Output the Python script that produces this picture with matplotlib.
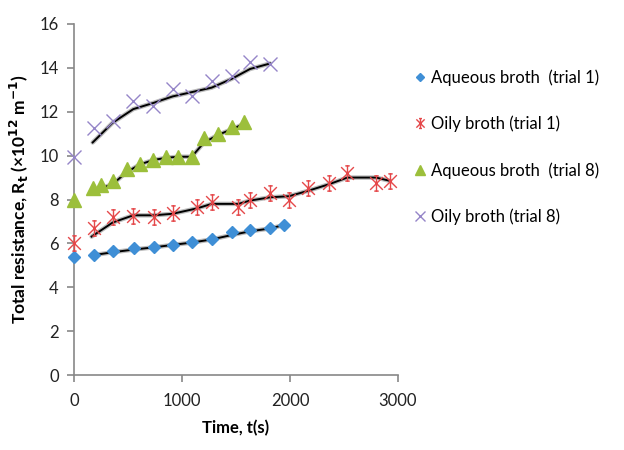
import matplotlib
matplotlib.use("Agg")
import matplotlib.pyplot as plt
from matplotlib.path import Path
import numpy as np

plt.rcParams['font.family'] = ['Lato', 'DejaVu Sans']

# Data
t_aq1 = [0, 188, 364, 556, 741, 914, 1095, 1275, 1460, 1630, 1815, 1947]
r_aq1 = [5.40, 5.47, 5.67, 5.77, 5.82, 5.94, 6.05, 6.18, 6.53, 6.60, 6.70, 6.84]
fit_t_aq1 = [188, 364, 556, 741, 914, 1095, 1275, 1460, 1630, 1815, 1947]
fit_r_aq1 = [5.47, 5.60, 5.72, 5.82, 5.93, 6.04, 6.18, 6.38, 6.55, 6.68, 6.84]

t_oil1 = [0, 188, 358, 549, 741, 914, 1142, 1275, 1521, 1630, 1815, 1991, 2170, 2364, 2531, 2796, 2926]
r_oil1 = [6.03, 6.69, 7.19, 7.25, 7.19, 7.40, 7.68, 7.90, 7.68, 7.98, 8.28, 7.96, 8.51, 8.74, 9.19, 8.74, 8.86]
fit_t_oil1 = [163, 358, 549, 741, 914, 1142, 1275, 1521, 1630, 1815, 1991, 2170, 2364, 2531, 2796, 2926]
fit_r_oil1 = [6.31, 6.95, 7.28, 7.28, 7.35, 7.60, 7.80, 7.80, 7.95, 8.10, 8.15, 8.40, 8.70, 9.00, 9.00, 8.85]

t_aq8 = [0, 179, 247, 358, 488, 611, 734, 852, 966, 1090, 1204, 1336, 1460, 1574]
r_aq8 = [7.98, 8.51, 8.65, 8.83, 9.39, 9.62, 9.82, 9.92, 9.92, 9.96, 10.79, 10.98, 11.32, 11.55]
fit_t_aq8 = [179, 247, 358, 488, 611, 734, 852, 966, 1090, 1204, 1336, 1460, 1574]
fit_r_aq8 = [8.27, 8.50, 8.70, 9.25, 9.60, 9.80, 9.90, 9.95, 9.95, 10.60, 10.95, 11.20, 11.45]

t_oil8 = [0, 188, 358, 549, 734, 914, 1095, 1275, 1460, 1630, 1815]
r_oil8 = [9.95, 11.28, 11.56, 12.47, 12.27, 13.03, 12.73, 13.41, 13.64, 14.25, 14.17]
fit_t_oil8 = [173, 358, 549, 734, 914, 1095, 1275, 1460, 1630, 1815]
fit_r_oil8 = [10.60, 11.50, 12.12, 12.40, 12.70, 12.90, 13.10, 13.50, 13.95, 14.20]

labels = ["Aqueous broth  (trial 1)", "Oily broth (trial 1)",
          "Aqueous broth  (trial 8)", "Oily broth (trial 8)"]

x_ticks = [0, 1000, 2000, 3000]
y_ticks = [0, 2, 4, 6, 8, 10, 12, 14, 16]

# Excel-like star marker (x + vertical bar)
star_verts = [(-1, -1), (1, 1), (-1, 1), (1, -1), (0, -1.2), (0, 1.2),
              (-0.35, 1.2), (0.35, 1.2), (-0.35, -1.2), (0.35, -1.2)]
star_codes = [Path.MOVETO, Path.LINETO] * 5
star = Path(star_verts, star_codes)

fig = plt.figure(figsize=(6.24, 4.5), dpi=100)
ax = fig.add_axes([74/624, 1 - 375/450, (398-74)/624, (375-24)/450])

blue = '#3f8fd6'
red = '#e5484a'
green = '#9cbf3b'
purple = '#9585c8'

def fitline(x, y):
    ax.plot(x, y, color='#bbbbbb', lw=3.2, zorder=2, solid_capstyle='round')
    ax.plot(x, y, color='black', lw=1.4, zorder=3)

fitline(fit_t_aq1, fit_r_aq1)
fitline(fit_t_oil1, fit_r_oil1)
fitline(fit_t_aq8, fit_r_aq8)
fitline(fit_t_oil8, fit_r_oil8)

h1, = ax.plot(t_aq1, r_aq1, ls='none', marker='D', ms=6.5, color=blue, mec=blue, zorder=4)
h2, = ax.plot(t_oil1, r_oil1, ls='none', marker=star, ms=11, color=red, mew=1.0, zorder=4)
h3, = ax.plot(t_aq8, r_aq8, ls='none', marker='^', ms=10, color=green, mec=green, zorder=4)
h4, = ax.plot(t_oil8, r_oil8, ls='none', marker='x', ms=10, color=purple, mew=1.0, zorder=4)

ax.set_xlim(0, 3000)
ax.set_ylim(0, 16)
ax.set_xticks(x_ticks)
ax.set_yticks(y_ticks)
ax.set_xticklabels([str(v) for v in x_ticks])
ax.set_yticklabels([str(v) for v in y_ticks])
for s in ['top', 'right']:
    ax.spines[s].set_visible(False)
for s in ['left', 'bottom']:
    ax.spines[s].set_color('#888888')
    ax.spines[s].set_linewidth(1.2)
ax.tick_params(axis='both', direction='out', length=5, color='#888888', width=1.2,
               labelsize=12, labelcolor='#222222')
ax.tick_params(axis='x', pad=8)
ax.tick_params(axis='y', pad=6)
for ln in ax.lines:
    ln.set_clip_on(False)

ax.set_xlabel("Time, t(s)", fontsize=12, fontweight='bold', labelpad=8)
ax.set_ylabel("Total resistance, R$_\\mathbf{t}$ (\u00d710$^{\\mathbf{12}}$ m$^{\\mathbf{-1}}$)",
              fontsize=12.5, fontweight='bold', labelpad=6)

leg = fig.legend([h1, h2, h3, h4], labels, loc='upper left',
                 bbox_to_anchor=(398/624, 1 - 54/450), frameon=False,
                 fontsize=12, labelspacing=1.8, handlelength=0.8,
                 handletextpad=0.3, markerscale=0.65)

fig.savefig("out.png", dpi=100)
